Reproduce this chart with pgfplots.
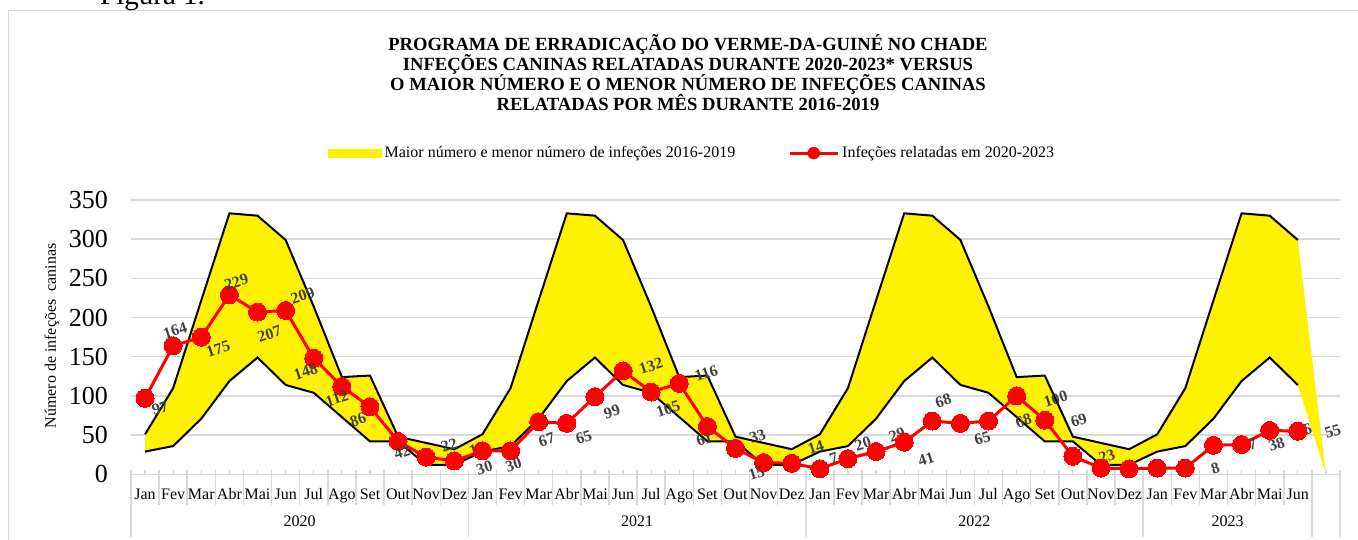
\documentclass[border=0pt]{standalone}
\usepackage{fontspec}
\setmainfont{Liberation Serif}
\usepackage{pgfplots}
\usepackage{pgfplotstable}
\pgfplotsset{compat=1.18}
\usepgfplotslibrary{fillbetween}
\definecolor{gridgray}{HTML}{D9D9D9}
\definecolor{lblgray}{HTML}{404040}

\pgfplotstableread{
x y
0 51
1 110
2 222
3 333
4 330
5 299
6 214
7 124
8 126
9 48
10 40
11 32
12 51
13 110
14 222
15 333
16 330
17 299
18 214
19 124
20 126
21 48
22 40
23 32
24 51
25 110
26 222
27 333
28 330
29 299
30 214
31 124
32 126
33 48
34 40
35 32
36 51
37 110
38 222
39 333
40 330
41 299
42 0
}\uptab

\pgfplotstableread{
x y
0 29
1 36
2 71
3 119
4 149
5 114
6 104
7 73
8 42
9 42
10 12
11 12
12 29
13 36
14 71
15 119
16 149
17 114
18 104
19 73
20 42
21 42
22 12
23 12
24 29
25 36
26 71
27 119
28 149
29 114
30 104
31 73
32 42
33 42
34 12
35 12
36 29
37 36
38 71
39 119
40 149
41 114
42 0
}\lotab

\pgfplotstableread{
x y dx dy
0 97 15 -10
1 164 2 15
2 175 17 -12
3 229 7 13
4 207 12 -22
5 209 17 15
6 148 -8 -13
7 112 -5 -12
8 86 -12 -13
9 42 4 -11
10 22 23 12
11 17 23 12
12 30 2 -17
13 30 3 -14
14 67 8 -18
15 65 17 -14
16 99 17 -15
17 132 28 5
18 105 17 -17
19 116 27 10
20 61 -3 -13
21 33 22 12
22 15 -7 -11
23 14 24 16
24 7 14 11
25 20 15 15
26 29 21 17
27 41 22 -17
28 68 11 20
29 65 22 -15
30 68 35 0
31 100 39 -3
32 69 34 0
33 23 34 0
34 8 32 0
35 7 30 0
36 8 30 0
37 8 30 0
38 37 35 0
39 38 35 0
40 56 34 0
41 55 35 0
}\reptab

\begin{document}
\begin{tikzpicture}
% frame
\draw[gridgray, line width=1.5pt] (8.5pt,-10pt) -- (8.5pt,528.5pt) -- (1370pt,528.5pt);
% cut-off caption
\node[anchor=base west, inner sep=0pt, font=\fontsize{29}{29}\selectfont] at (100pt,534pt) {Figura 1.};
% title
\node[align=center, font=\fontsize{18.6}{20}\selectfont\bfseries] at (688pt,466.5pt)
 {PROGRAMA DE ERRADICAÇÃO DO VERME-DA-GUINÉ NO CHADE\\
  INFEÇÕES CANINAS RELATADAS DURANTE 2020-2023* VERSUS\\
  O MAIOR NÚMERO E O MENOR NÚMERO DE INFEÇÕES CANINAS\\
  RELATADAS POR MÊS DURANTE 2016-2019};
% y label
\node[rotate=90, font=\fontsize{16}{16}\selectfont] at (52pt,203pt) {Número de infeções\ \ caninas};

\begin{axis}[
  at={(131pt,64.7pt)}, anchor=south west,
  scale only axis, width=1209pt, height=274.3pt,
  xmin=-0.5, xmax=42.5, ymin=0, ymax=350,
  enlargelimits=false, clip=false,
  axis x line*=bottom, axis y line*=left,
  y axis line style={draw=none},
  x axis line style={draw=gridgray, line width=1.5pt},
  major tick length=0pt,
  ytick={0,50,...,350},
  ymajorgrids, grid style={gridgray, line width=1.5pt},
  /pgf/number format/assume math mode=true,
  yticklabel style={font=\fontsize{26}{26}\selectfont, anchor=east, inner sep=0pt, xshift=-23pt},
  xtick={0,...,41},
  xticklabels={Jan,Fev,Mar,Abr,Mai,Jun,Jul,Ago,Set,Out,Nov,Dez,
               Jan,Fev,Mar,Abr,Mai,Jun,Jul,Ago,Set,Out,Nov,Dez,
               Jan,Fev,Mar,Abr,Mai,Jun,Jul,Ago,Set,Out,Nov,Dez,
               Jan,Fev,Mar,Abr,Mai,Jun},
  xticklabel style={font=\fontsize{16}{16}\selectfont, anchor=base, inner sep=0pt, yshift=-25.5pt},
  legend style={draw=none, fill=none, at={(axis description cs:0.163,1.171)}, anchor=west,
     inner sep=0pt, font=\fontsize{16}{16}\selectfont, legend columns=2,
     /tikz/every even column/.append style={column sep=50pt},
     nodes={inner sep=3pt}},
  legend cell align=left,
]
\addplot[draw=none, name path=up, forget plot] table[x=x,y=y] {\uptab};
\addplot[draw=none, name path=lo, forget plot] table[x=x,y=y] {\lotab};
\addplot[fill=yellow, draw=none, forget plot] fill between[of=up and lo];
\addplot[black, line width=2pt, restrict x to domain=0:41, forget plot] table[x=x,y=y] {\uptab};
\addplot[black, line width=2pt, restrict x to domain=0:41, forget plot] table[x=x,y=y] {\lotab};

% category separators
\pgfplotsinvokeforeach{-0.5,0.5,1.5,2.5,3.5,4.5,5.5,6.5,7.5,8.5,9.5,10.5,11.5,12.5,13.5,14.5,15.5,16.5,17.5,18.5,19.5,20.5,21.5,22.5,23.5,24.5,25.5,26.5,27.5,28.5,29.5,30.5,31.5,32.5,33.5,34.5,35.5,36.5,37.5,38.5,39.5,40.5,41.5,42.5}{
  \draw[gridgray, line width=1.5pt] ([yshift=4pt]axis cs:#1,0) -- ([yshift=-31pt]axis cs:#1,0);
}
\pgfplotsinvokeforeach{0,1,2,3,4,5,6,7,8,9,10,11,12,13,14,15,16,17,18,19,20,21,22,23,24,25,26,27,28,29,30,31,32,33,34,35,36,37,38,39,40,41,42}{
  \draw[gridgray, line width=1.2pt] (axis cs:#1,0) -- ([yshift=4pt]axis cs:#1,0);
}
\pgfplotsinvokeforeach{-0.5,11.5,23.5,35.5,41.5,42.5}{
  \draw[gridgray, line width=1.5pt] (axis cs:#1,0) -- ([yshift=-63pt]axis cs:#1,0);
}
\node[anchor=base, inner sep=0pt, font=\fontsize{16}{16}\selectfont] at ([yshift=-52pt]axis cs:5.5,0) {2020};
\node[anchor=base, inner sep=0pt, font=\fontsize{16}{16}\selectfont] at ([yshift=-52pt]axis cs:17.5,0) {2021};
\node[anchor=base, inner sep=0pt, font=\fontsize{16}{16}\selectfont] at ([yshift=-52pt]axis cs:29.5,0) {2022};
\node[anchor=base, inner sep=0pt, font=\fontsize{16}{16}\selectfont] at ([yshift=-52pt]axis cs:38.5,0) {2023};

\addplot[red, line width=3pt, mark=*, mark size=9pt, mark options={fill=red, draw=red, line width=0pt},
  forget plot,
  point meta=explicit,
  visualization depends on={\thisrow{dx} \as \ldx},
  visualization depends on={\thisrow{dy} \as \ldy},
  nodes near coords={\pgfmathprintnumber[fixed,precision=0]{\pgfplotspointmeta}},
  nodes near coords style={anchor=center, inner sep=0pt, xshift=\ldx pt, yshift=\ldy pt, rotate=18,
     font=\fontsize{16}{16}\selectfont\bfseries, text=lblgray},
] table[x=x, y=y, meta=y] {\reptab};

\addlegendimage{legend image code/.code={\fill[yellow] (0pt,-4pt) rectangle (53pt,4pt);}}
\addlegendentry{Maior número e menor número de infeções 2016-2019}
\addlegendimage{legend image code/.code={\draw[red,line width=3pt] (0pt,0pt) -- (48pt,0pt); \fill[red] (24pt,0pt) circle (6pt);}}
\addlegendentry{Infeções relatadas em 2020-2023}
\end{axis}
\pgfresetboundingbox
\useasboundingbox (0pt,0pt) rectangle (1358pt,539pt);
\end{tikzpicture}
\end{document}
